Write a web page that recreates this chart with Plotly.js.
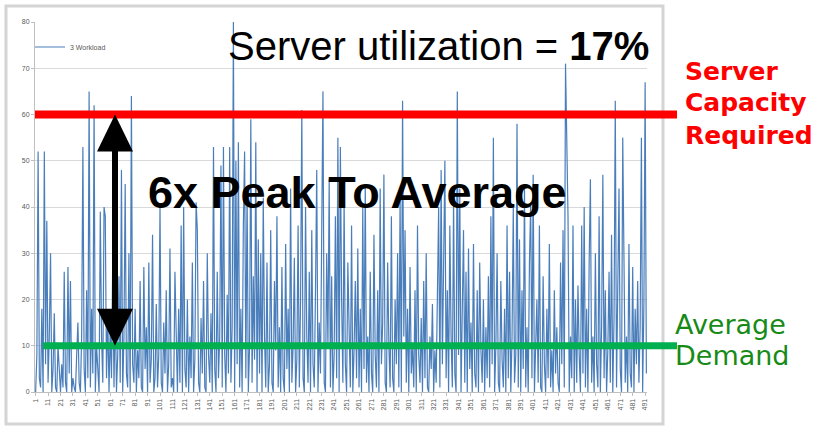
<!DOCTYPE html>
<html><head><meta charset="utf-8">
<script src="https://cdn.plot.ly/plotly-3.0.1.min.js"></script>
<style>html,body{margin:0;padding:0;background:#fff}#chart{width:815px;height:428px}</style>
</head><body><div id="chart"></div>
<script>
const seriesName = '3 Workload';
const workload = [
 0, 8,52, 3, 1,18, 0,52, 6,37,
 2,12,30, 0, 5,17, 1, 0,10, 3,
 0, 6, 1,26, 2, 0,27, 4,24, 0,
 3, 1, 0, 8,15, 2, 0,12,53, 5,
 0,22, 3,65, 1,18, 4,62, 0,10,
 6, 0,39,12, 2,40,38, 3,17, 0,
14, 3,29, 1,20, 0, 8,25, 2,48,
 0,12,45, 4, 1,30, 0,64, 6, 2,
18, 0, 9, 3,24, 1, 0,27, 5,14,
 0,28, 2, 7,34, 0, 3,19, 1, 8,
40, 2, 0,15, 4,22, 0, 6,31, 1,
 3, 0,26, 9, 0,18, 2,36, 0,40,
 5, 1,20, 0,12, 3,28, 0, 7,41,
35, 2, 0,16, 4,24, 1, 0,30, 8,
 2,17, 0,53, 5, 0,26, 3,12,49,
 1,53, 8, 0,21, 4,53, 2,14,80,
 0,50, 6,54, 1,18, 0,36,52, 3,
44, 0,10,59, 2,25, 7,54, 0,33,
 4,30, 0,42,12, 1,28, 0, 6,35,
 2, 0,24, 9,38, 1,14, 0,27, 3,
 0,32, 5,18, 0,44, 2,10,29, 0,
 7,36, 1,20,61, 3, 0,40,12, 2,
26, 0,35, 6, 1,22,48, 0,15, 4,
33,65, 2, 0,30,10,46, 1,25, 0,
 8,38, 3,55, 0,53,20, 2,42, 6,
 0,28,14, 1,36, 0, 9,24, 3,31,
 1,18, 0,40, 5,45, 2,12, 0,26,
 4, 0,34, 8, 1,22, 0,44, 6,15,
47, 2, 0,28,10, 1,38, 3, 0,20,
 6,30, 1,42, 0,63,12,35, 2,18,
 0,27, 4,10, 1,22, 0,36, 8, 2,
16, 0,24, 3,30, 1, 0,12, 5,19,
 0, 9, 2,28,40, 1,48, 6,30,50,
 3,22, 0,36,12, 1,42, 4, 0,65,
 8,44, 0,18,35, 2,26, 0,31, 5,
15, 0,32, 4, 1,22, 0,28, 9, 2,
20, 0,14, 3,25, 1,38, 6,55, 0,
10,30, 2, 0,24, 7, 1,18, 0,36,
 3,26, 0,12,40, 2, 8,58, 1,33,
 0,22, 5,45, 1,14, 0,28,41, 3,
47, 0,10,20, 2,36, 1, 0,25, 6,
 0,18, 3,32, 1, 9, 0,22, 4,14,
 2, 0,28, 6,35, 1,71,51,38, 0,
12, 3,36, 0,20, 2,23, 8, 0,36,
 4,40, 1,18, 0,28,46, 2,12, 0,
30, 6, 1,38, 0,14,47, 3,22, 0,
 9,26, 2,34, 0,16,63, 1,20,44,
 5, 0,55,30, 2,12, 0,32, 4, 1,
27, 0,18, 6,24, 2,14,55, 0,19,
67, 4
];
const periods = workload.map((_, i) => i + 1);
const xTickVals = [1,11,21,31,41,51,61,71,81,91,101,111,121,131,141,151,161,171,181,191,201,211,221,231,241,251,261,271,281,291,301,311,321,331,341,351,361,371,381,391,401,411,421,431,441,451,461,471,481,491];
const xTickLabels = ['1','11','21','31','41','51','61','71','81','91','101','111','121','131','141','151','161','171','181','191','201','211','221','231','241','251','261','271','281','291','301','311','321','331','341','351','361','371','381','391','401','411','421','431','441','451','461','471','481','491'];
const yTicks = [0,10,20,30,40,50,60,70,80];
const capacityLevel = 60;
const averageLevel = 10;

// pixel helpers for decorations (plot area: x 35..647, y 22..392)
const PL = 35, PW = 612, PB = 392, PH = 370;
const xp = px => (px - PL) / PW;
const yp = py => (PB - py) / PH;

const arrowX = xp(115), headHalf = 18 / PW, headLen = 8;

const trace = {
  x: periods, y: workload, type: 'scatter', mode: 'lines', name: seriesName,
  line: {color: '#4a7ebb', width: 1.2}
};

const layout = {
  width: 815, height: 428,
  margin: {l: PL, r: 815 - PL - PW, t: 22, b: 428 - PB},
  paper_bgcolor: '#ffffff', plot_bgcolor: '#ffffff',
  font: {family: 'Liberation Sans, Arial, sans-serif'},
  showlegend: true,
  legend: {x: xp(30), y: yp(47), xanchor: 'left', yanchor: 'middle',
           font: {size: 7, color: '#595959'}, bgcolor: 'rgba(0,0,0,0)', itemwidth: 30},
  xaxis: {range: [0.5, workload.length + 0.5], tickmode: 'array', tickvals: xTickVals, ticktext: xTickLabels,
          tickangle: -90, tickfont: {size: 7, color: '#595959'}, ticks: 'outside', ticklen: 3,
          tickcolor: '#bfbfbf', showline: true, linecolor: '#bfbfbf', showgrid: false, zeroline: false},
  yaxis: {range: [0, 80], tickmode: 'array', tickvals: yTicks, tickfont: {size: 7, color: '#595959'},
          ticks: 'outside', ticklen: 3, tickcolor: '#bfbfbf', showline: true, linecolor: '#bfbfbf',
          showgrid: true, gridcolor: '#d9d9d9', gridwidth: 1, zeroline: false},
  shapes: [
    {type: 'rect', xref: 'paper', yref: 'paper', x0: xp(6), x1: xp(663), y0: yp(424), y1: yp(6),
     line: {color: '#d4d4d4', width: 3}, fillcolor: 'rgba(0,0,0,0)', layer: 'below'},
    {type: 'line', xref: 'paper', yref: 'y', x0: xp(35), x1: xp(677), y0: capacityLevel, y1: capacityLevel,
     line: {color: '#ff0000', width: 8}},
    {type: 'line', xref: 'paper', yref: 'y', x0: xp(43), x1: xp(677), y0: averageLevel, y1: averageLevel,
     line: {color: '#00b050', width: 7}},
    {type: 'line', xref: 'paper', yref: 'y', x0: arrowX, x1: arrowX,
     y0: averageLevel + headLen - 0.5, y1: capacityLevel - headLen + 0.5, line: {color: '#000000', width: 6}},
    {type: 'path', xref: 'paper', yref: 'y', fillcolor: '#000000', line: {color: '#000000', width: 0},
     path: `M ${arrowX - headHalf},${capacityLevel - headLen} L ${arrowX},${capacityLevel} L ${arrowX + headHalf},${capacityLevel - headLen} Z`},
    {type: 'path', xref: 'paper', yref: 'y', fillcolor: '#000000', line: {color: '#000000', width: 0},
     path: `M ${arrowX - headHalf},${averageLevel + headLen} L ${arrowX},${averageLevel} L ${arrowX + headHalf},${averageLevel + headLen} Z`}
  ],
  annotations: [
    {text: 'Server utilization = <b>17%</b>', xref: 'paper', yref: 'paper', x: xp(226), y: yp(46),
     xanchor: 'left', yanchor: 'middle', showarrow: false,
     font: {family: 'Liberation Sans, Arial, sans-serif', size: 40, color: '#000000'}},
    {text: '<b>6x Peak To Average</b>', xref: 'paper', yref: 'paper', x: xp(146), y: yp(192),
     xanchor: 'left', yanchor: 'middle', showarrow: false,
     font: {family: 'Liberation Sans, Arial, sans-serif', size: 45, color: '#000000'}},
    {text: '<b>Server</b>', xref: 'paper', yref: 'paper', x: xp(683), y: yp(71),
     xanchor: 'left', yanchor: 'middle', showarrow: false,
     font: {family: 'DejaVu Sans, sans-serif', size: 25, color: '#ff0000'}},
    {text: '<b>Capacity</b>', xref: 'paper', yref: 'paper', x: xp(683), y: yp(102),
     xanchor: 'left', yanchor: 'middle', showarrow: false,
     font: {family: 'DejaVu Sans, sans-serif', size: 25, color: '#ff0000'}},
    {text: '<b>Required</b>', xref: 'paper', yref: 'paper', x: xp(683), y: yp(135),
     xanchor: 'left', yanchor: 'middle', showarrow: false,
     font: {family: 'DejaVu Sans, sans-serif', size: 25, color: '#ff0000'}},
    {text: 'Average', xref: 'paper', yref: 'paper', x: xp(673), y: yp(324),
     xanchor: 'left', yanchor: 'middle', showarrow: false,
     font: {family: 'DejaVu Sans, sans-serif', size: 27, color: '#178a17'}},
    {text: 'Demand', xref: 'paper', yref: 'paper', x: xp(673), y: yp(355),
     xanchor: 'left', yanchor: 'middle', showarrow: false,
     font: {family: 'DejaVu Sans, sans-serif', size: 27, color: '#178a17'}}
  ]
};

Plotly.newPlot('chart', [trace], layout, {displayModeBar: false, staticPlot: true});
</script>
</body></html>
